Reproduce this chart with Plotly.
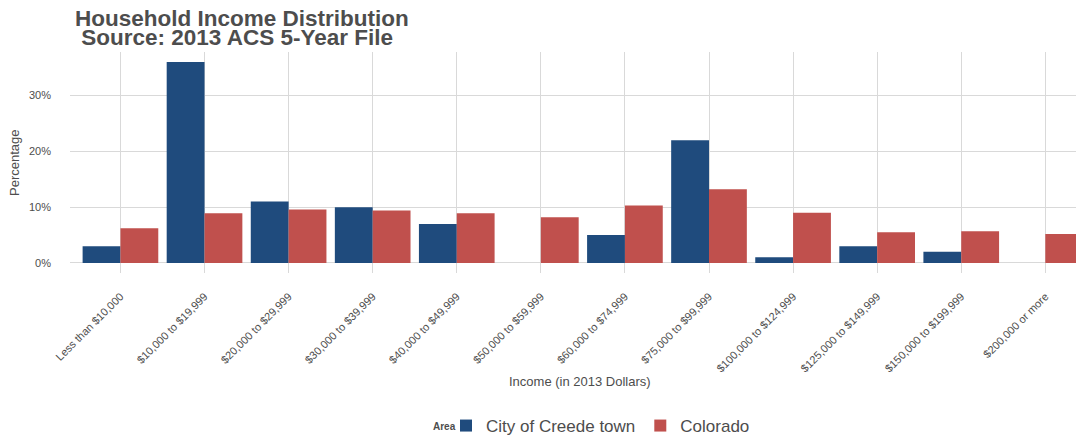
import plotly.graph_objects as go

categories = ["Less than $10,000", "$10,000 to $19,999", "$20,000 to $29,999",
              "$30,000 to $39,999", "$40,000 to $49,999", "$50,000 to $59,999",
              "$60,000 to $74,999", "$75,000 to $99,999", "$100,000 to $124,999",
              "$125,000 to $149,999", "$150,000 to $199,999", "$200,000 or more"]
creede = [0.03, 0.36, 0.11, 0.10, 0.07, 0.0, 0.05, 0.22, 0.01, 0.03, 0.02, 0.0]
colorado = [0.062, 0.089, 0.096, 0.094, 0.089, 0.082, 0.103, 0.132, 0.090, 0.055, 0.057, 0.052]
ytick_vals = [0, 0.1, 0.2, 0.3]
ytick_text = ["0%", "10%", "20%", "30%"]

BLUE = "#1f4b7d"
RED = "#c0504d"
TXT = "#4d4d4d"
FONT = "Liberation Sans, Arial, sans-serif"

# page body has an 8px margin: figure coords = screen coords - 8
OFF = 8
W, H = 1076, 429
L, R, T, B = 62, 0, 44, 164
PW, PH = W - L - R, H - T - B


def px_x(x):
    return (x - OFF - L) / PW


def px_y(y):
    return (H - B - (y - OFF)) / PH


fig = go.Figure()
fig.add_trace(go.Bar(x=categories, y=creede, name="City of Creede town",
                     marker=dict(color=BLUE, line=dict(width=0))))
fig.add_trace(go.Bar(x=categories, y=colorado, name="Colorado",
                     marker=dict(color=RED, line=dict(width=0))))

annotations = [
    dict(text="<b>Household Income Distribution</b>", height=20,
         xref="paper", yref="paper", x=px_x(73), y=px_y(18), xanchor="left", yanchor="middle",
         align="left", showarrow=False, font=dict(size=22.5, color=TXT, family=FONT)),
    dict(text="<b> Source: 2013 ACS 5-Year File</b>", height=20,
         xref="paper", yref="paper", x=px_x(73), y=px_y(37), xanchor="left", yanchor="middle",
         align="left", showarrow=False, font=dict(size=22.5, color=TXT, family=FONT)),
    dict(text="Income (in 2013 Dollars)", xref="paper", yref="paper",
         x=px_x(580), y=px_y(381), xanchor="center", yanchor="middle",
         showarrow=False, font=dict(size=13, color=TXT, family=FONT)),
    dict(text="Percentage", xref="paper", yref="paper", textangle=-90,
         x=px_x(14), y=px_y(163), xanchor="center", yanchor="middle",
         showarrow=False, font=dict(size=13, color=TXT, family=FONT)),
    dict(text="<b>Area</b>", xref="paper", yref="paper",
         x=px_x(431), y=px_y(426), xanchor="left", yanchor="middle",
         showarrow=False, font=dict(size=10, color=TXT, family=FONT)),
]

fig.update_layout(
    width=W, height=H,
    barmode="group", bargap=0.1, bargroupgap=0,
    plot_bgcolor="white", paper_bgcolor="white",
    margin=dict(l=L, r=R, t=T, b=B, autoexpand=False),
    font=dict(family=FONT, color=TXT),
    xaxis=dict(range=[-0.6, 11.46], tickangle=-45, showgrid=True, gridcolor="#d9d9d9",
               gridwidth=1, zeroline=False, tickfont=dict(size=11, color=TXT),
               ticks="", automargin=False, ticklabelstandoff=14),
    yaxis=dict(range=[-0.018, 0.378], tickvals=ytick_vals, ticktext=ytick_text,
               showgrid=True, gridcolor="#d9d9d9", gridwidth=1, zeroline=False,
               tickfont=dict(size=11, color=TXT), ticks="", ticklabelstandoff=18,
               automargin=False),
    legend=dict(orientation="h", x=px_x(446), xanchor="left", y=px_y(426), yanchor="middle",
                font=dict(size=17, color=TXT), itemwidth=30, tracegroupgap=0),
    annotations=annotations,
)

fig.write_html("out.html")
